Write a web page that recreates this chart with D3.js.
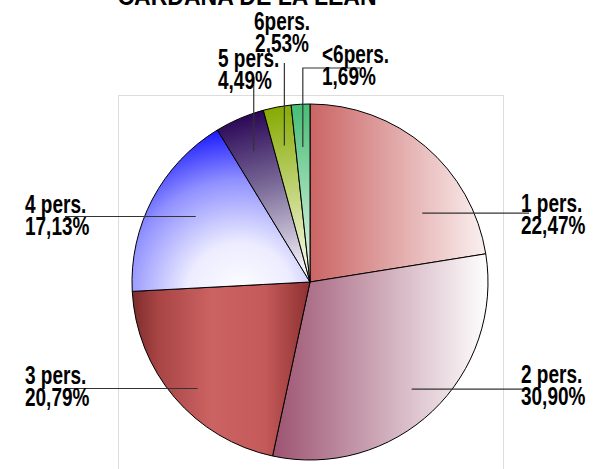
<!DOCTYPE html>
<html>
<head>
<meta charset="utf-8">
<script src="https://cdn.jsdelivr.net/npm/d3@7"></script>
<style>
  html, body { margin: 0; padding: 0; background: #fff; }
  svg { display: block; }
  .lbl { font-family: "Liberation Sans", Arial, sans-serif; font-weight: bold; font-size: 25px; fill: #000; }
</style>
</head>
<body>
<script>
// Household size shares (percent)
const categories = ["1 pers.", "2 pers.", "3 pers.", "4 pers.", "5 pers.", "6pers.", "<6pers."];
const shares = [22.47, 30.90, 20.79, 17.13, 4.49, 2.53, 1.69];
const chartTitle = "CARDAÑA DE LA LEAN";

const W = 595, H = 469;
const cx = 310, cy = 282, R = 178;
const narrow = 0.76; // horizontal squeeze for a condensed bold face

const svg = d3.select("body").append("svg").attr("width", W).attr("height", H);
const defs = svg.append("defs");

// Fill gradients for each slice (coordinates relative to the pie centre)
function linear(id, x1, y1, x2, y2, stops) {
  const g = defs.append("linearGradient").attr("id", id)
    .attr("gradientUnits", "userSpaceOnUse")
    .attr("x1", x1).attr("y1", y1).attr("x2", x2).attr("y2", y2);
  stops.forEach(([o, c]) => g.append("stop").attr("offset", o).attr("stop-color", c));
}
function radial(id, fx, fy, r, stops) {
  const g = defs.append("radialGradient").attr("id", id)
    .attr("gradientUnits", "userSpaceOnUse")
    .attr("cx", fx).attr("cy", fy).attr("r", r);
  stops.forEach(([o, c]) => g.append("stop").attr("offset", o).attr("stop-color", c));
}
linear("g0", 0, 0, R, 0, [[0, "#cb6464"], [1, "#fbf2f2"]]);
linear("g1", -38, 0, R, 0, [[0, "#9c5270"], [1, "#ffffff"]]);
linear("g2", -R, 0, 0, 0, [[0, "#7e2c2c"], [0.15, "#a94545"], [0.45, "#cc6363"], [0.75, "#c45a5a"], [1, "#8e3030"]]);
radial("g3", -70, 15, 180, [[0, "#ffffff"], [0.3, "#ececff"], [0.65, "#9090ff"], [1, "#0000ff"]]);
linear("g4", -50, -172, -5, -12, [[0, "#2a0656"], [0.45, "#7a6a98"], [1, "#f6f4fa"]]);
linear("g5", -34, -176, -4, -14, [[0, "#86aa00"], [1, "#f6f9e2"]]);
linear("g6", -12, -178, -1, -14, [[0, "#46bd74"], [1, "#dcf5e6"]]);

// Plot-area frame
svg.append("rect")
  .attr("x", 118.5).attr("y", 95.5).attr("width", 385).attr("height", 400)
  .attr("fill", "none").attr("stroke", "#dcdcdc").attr("stroke-width", 1);

// Condensed text helper: lines stacked from a first baseline
function condensedText(x, y, lines, anchor) {
  const grp = svg.append("g").attr("transform", `translate(${x},0)`);
  const t = grp.append("text").attr("class", "lbl")
    .attr("text-anchor", anchor).attr("transform", `scale(${narrow},1)`);
  lines.forEach((s, k) => t.append("tspan").attr("x", 0).attr("y", y + k * 22).text(s));
  return t;
}

// Title, mostly above the visible area
condensedText(247, 5, [chartTitle], "middle")
  .attr("textLength", 259 / narrow).attr("lengthAdjust", "spacingAndGlyphs");

const pie = d3.pie().sort(null).value(d => d)(shares);
const arc = d3.arc().innerRadius(0).outerRadius(R);

const g = svg.append("g").attr("transform", `translate(${cx},${cy})`);
g.selectAll("path.slice").data(pie).join("path")
  .attr("class", "slice")
  .attr("d", arc)
  .attr("fill", (d, i) => `url(#g${i})`)
  .attr("stroke", "#000")
  .attr("stroke-width", 1);

// Label placement: leader start inside slice (radius fraction, angular nudge in degrees)
const labelLayout = [
  { side: "right", radius: 0.74, turn: 18, dy: -1 },
  { side: "right", radius: 0.83, turn: 0, dy: -6 },
  { side: "left",  radius: 0.87, turn: -3, dy: -4 },
  { side: "left",  radius: 0.74, turn: 2, dy: -4 },
  { side: "top", radius: 0.80, textX: 218, textY: 67, anchor: "start", leaderTop: 77 },
  { side: "top", radius: 0.78, textX: 282, textY: 30, anchor: "middle", leaderTop: 63 },
  { side: "elbow", radius: 0.76, textX: 322, textY: 63, anchor: "start", leaderTop: 68, elbowX: 360 }
];

const fmt = v => d3.format(".2f")(v).replace(".", ",") + "%";
const leaders = svg.append("g").attr("stroke", "#333").attr("stroke-width", 1.2).attr("fill", "none");

pie.forEach((d, i) => {
  const L = labelLayout[i];
  const a = (d.startAngle + d.endAngle) / 2 + (L.turn || 0) * Math.PI / 180;
  const px = cx + Math.sin(a) * R * L.radius;
  const py = cy - Math.cos(a) * R * L.radius;
  let tx, ty, anchor;
  if (L.side === "right") {
    leaders.append("line").attr("x1", px).attr("y1", py).attr("x2", cx + R + 41).attr("y2", py);
    tx = cx + R + 33; ty = py + L.dy; anchor = "start";
  } else if (L.side === "left") {
    leaders.append("line").attr("x1", px).attr("y1", py).attr("x2", cx - R - 67).attr("y2", py);
    tx = 25; ty = py + L.dy; anchor = "start";
  } else if (L.side === "top") {
    leaders.append("line").attr("x1", px).attr("y1", py).attr("x2", px).attr("y2", L.leaderTop);
    tx = L.textX; ty = L.textY; anchor = L.anchor;
  } else {
    leaders.append("polyline").attr("points", `${px},${py} ${px},${L.leaderTop} ${L.elbowX},${L.leaderTop}`);
    tx = L.textX; ty = L.textY; anchor = L.anchor;
  }
  condensedText(tx, ty, [categories[i], fmt(shares[i])], anchor);
});
</script>
</body>
</html>
